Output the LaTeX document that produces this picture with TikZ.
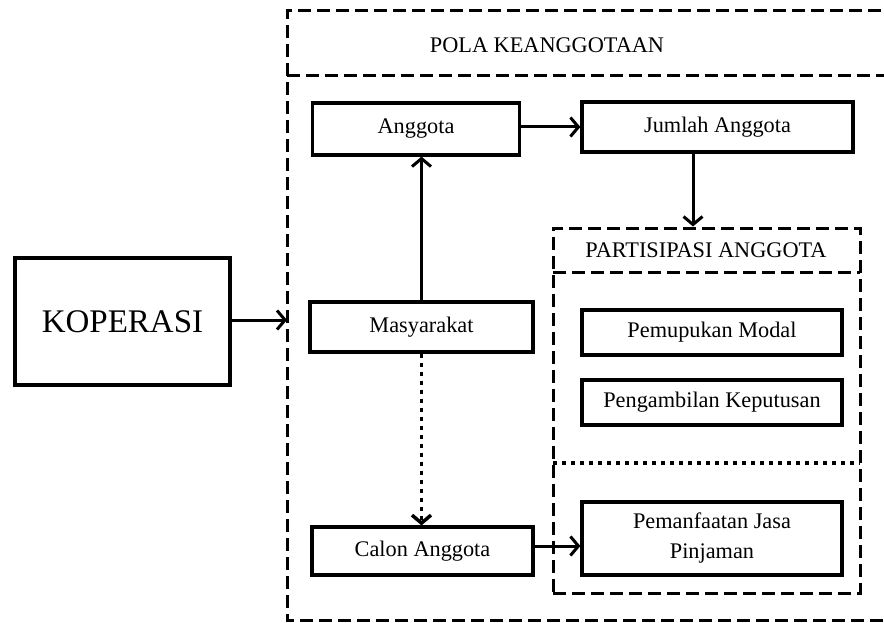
\documentclass[tikz,border=0pt]{standalone}
\usepackage{fontspec}
\setmainfont{Liberation Serif}
\usetikzlibrary{arrows.meta}

\newcommand{\hurufkecil}{\fontsize{22.3}{30}\selectfont}
\newcommand{\hurufbesar}{\fontsize{33}{38}\selectfont}

\tikzset{
    kotak/.style={draw, line width=3.2pt, inner sep=0pt, align=center, font=\hurufkecil},
    putus/.style={line width=3pt, dash pattern=on 13pt off 6pt},
    titik/.style={line width=3.5pt, dash pattern=on 4pt off 5pt},
    panah/.style={line width=3pt, -{Straight Barb[length=8pt, width=19pt]}},
}

\begin{document}
\begin{tikzpicture}[x=1pt, y=-1pt]
    \useasboundingbox (0,0) rectangle (884,623);
    \clip (0,0) rectangle (884,623);

    % bingkai pola keanggotaan
    \draw[putus] (900,11) -| (287,620) -- (900,620);
    \draw[putus] (287,76) -- (900,76);
    \node[font=\hurufkecil] (pola) at (547,45) {POLA KEANGGOTAAN};

    % bingkai partisipasi anggota
    \node[draw, putus, minimum width=307pt, minimum height=365pt, inner sep=0pt] (partisipasi) at (706.5,410.5) {};
    \draw[putus] (553,272) -- (860,272);
    \draw[titik] (553,463) -- (860,463);
    \node[font=\hurufkecil] (judulpar) at (706,250) {PARTISIPASI ANGGOTA};

    % kotak-kotak
    \node[kotak, font=\hurufbesar, minimum width=215pt, minimum height=127pt] (kop) at (122.5,321.5) {KOPERASI};
    \node[kotak, minimum width=207pt, minimum height=52pt] (anggota) at (416,129) {Anggota};
    \node[kotak, minimum width=271pt, minimum height=50pt] (jumlah) at (717.5,127) {Jumlah Anggota};
    \node[kotak, minimum width=223pt, minimum height=50pt] (masy) at (421.5,327) {Masyarakat};
    \node[kotak, minimum width=221pt, minimum height=48pt] (calon) at (422.5,551) {Calon Anggota};
    \node[kotak, minimum width=260pt, minimum height=45pt] (modal) at (712,332.5) {Pemupukan Modal};
    \node[kotak, minimum width=260pt, minimum height=45pt] (keputusan) at (712,402.5) {Pengambilan Keputusan};
    \node[kotak, minimum width=260pt, minimum height=73pt] (jasa) at (712,538.5) {Pemanfaatan Jasa\\Pinjaman};

    \coordinate (masuk) at (287,320);
    \coordinate (turun) at (693,152);

    % panah
    \draw[panah] (kop.east |- masuk) -- (masuk);
    \draw[panah] (anggota.east |- 0,127) -- (jumlah.west |- 0,127);
    \draw[panah] (turun) -- (turun |- partisipasi.north);
    \draw[panah] (masy.north) -- (masy.north |- anggota.south);
    \draw[panah, titik] (masy.south) -- (masy.south |- calon.north);
    \draw[panah] (calon.east |- 0,546) -- (jasa.west |- 0,546);
\end{tikzpicture}
\end{document}
